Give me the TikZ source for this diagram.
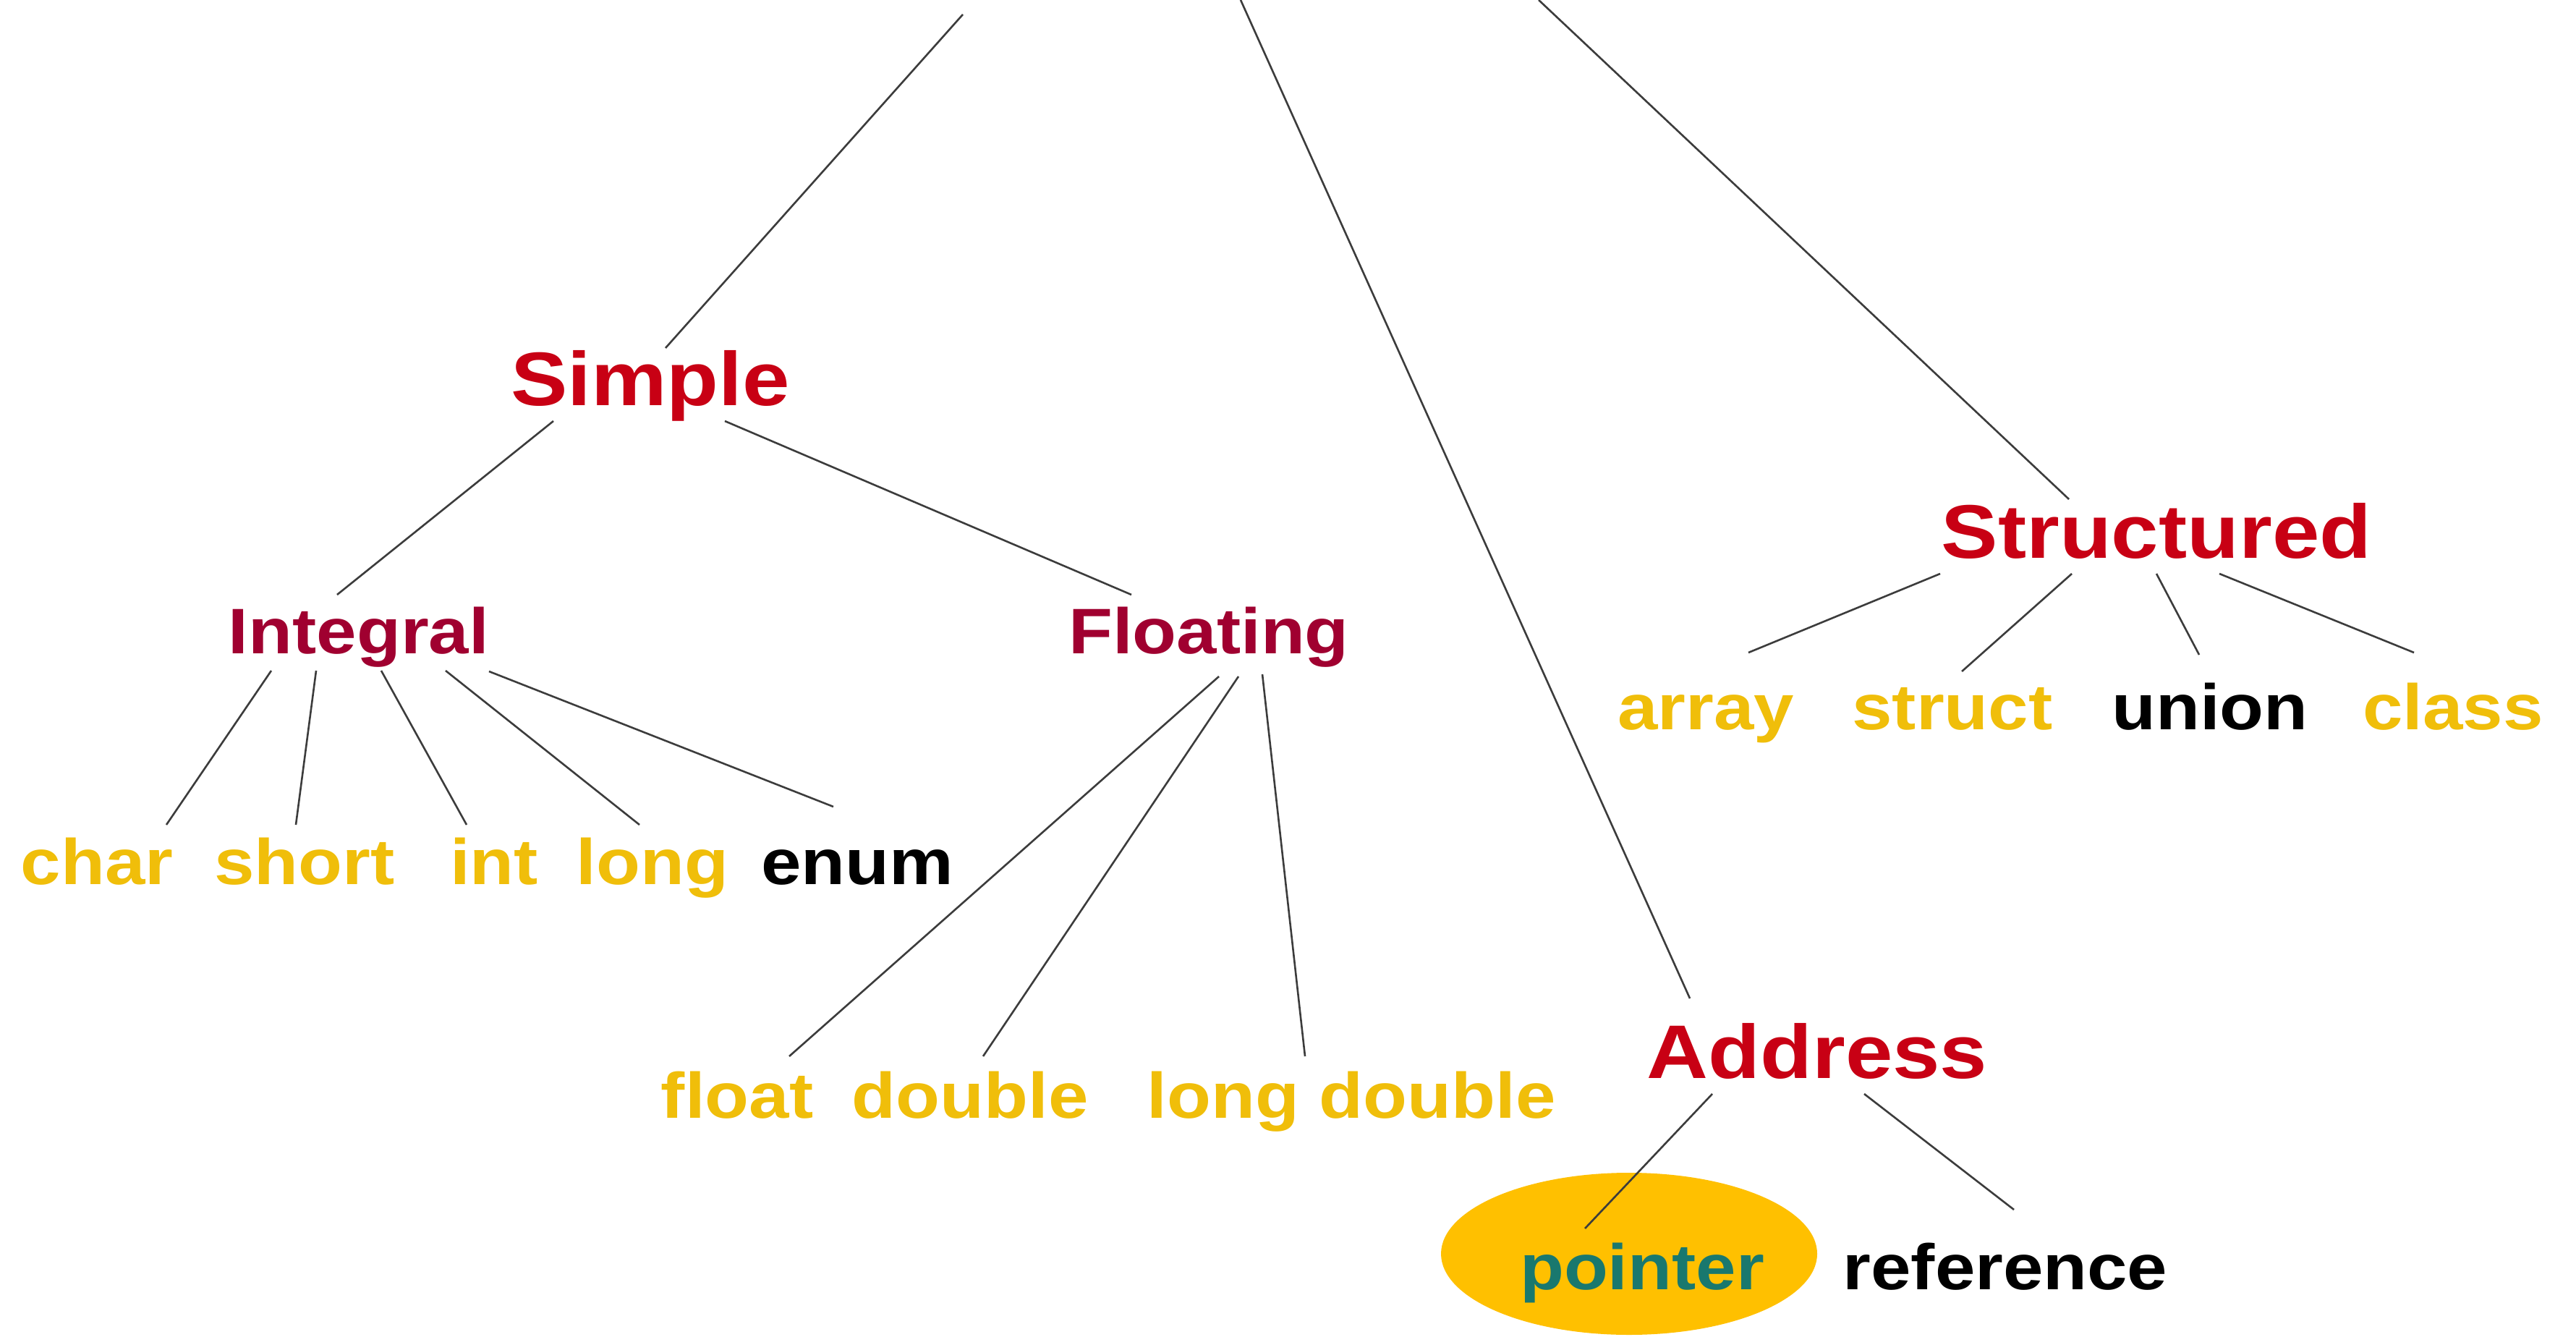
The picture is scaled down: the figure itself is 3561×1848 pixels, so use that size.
\documentclass[tikz,border=0pt]{standalone}
\usepackage{fontspec}
\newfontfamily\labelfont[FakeStretch=1.12]{Liberation Sans}
\definecolor{lvlone}{RGB}{200,0,20}
\definecolor{lvltwo}{RGB}{160,0,48}
\definecolor{leafgold}{RGB}{240,190,10}
\definecolor{ptrfill}{RGB}{255,192,0}
\definecolor{ptrtext}{RGB}{25,120,110}
\definecolor{linegray}{RGB}{60,60,60}
\begin{document}
\begin{tikzpicture}[x=0.25pt,y=-0.25pt,
  every node/.style={inner sep=0pt,outer sep=0pt,anchor=base},
  headone/.style={font=\labelfont\bfseries\fontsize{26.25pt}{30pt}\selectfont,text=lvlone},
  headtwo/.style={font=\labelfont\bfseries\fontsize{22.25pt}{26pt}\selectfont,text=lvltwo},
  leaf/.style={font=\labelfont\bfseries\fontsize{22.25pt}{26pt}\selectfont,text=leafgold},
  leafdark/.style={leaf,text=black},
  conn/.style={draw=linegray,line width=0.65pt}]

% canvas
\fill[white] (0,0) rectangle (3561,1848);
\useasboundingbox (0,0) rectangle (3561,1848);

% highlight behind "pointer"
\fill[ptrfill] (2252,1733) ellipse [x radius=260, y radius=112];

% upper ends of the three main branches
\coordinate (topA) at (1331,20);
\coordinate (topB) at (1715,0);
\coordinate (topC) at (2127,0);

% category nodes
\node[headone] (simple) at (899,561) {Simple};
\node[headone] (structured) at (2981,772) {Structured};
\node[headone] (address) at (2512,1490) {Address};
\node[headtwo] (integral) at (496,903) {Integral};
\node[headtwo] (floating) at (1671,903) {Floating};

% integral types
\node[leaf] (char) at (134,1222) {char};
\node[leaf] (short) at (421,1222) {short};
\node[leaf] (int) at (683,1222) {int};
\node[leaf] (long) at (902,1222) {long};
\node[leafdark] (enum) at (1185,1222) {enum};

% floating types
\node[leaf] (float) at (1019,1545) {float};
\node[leaf] (double) at (1341,1545) {double};
\node[leaf] (longdouble) at (1868,1545) {long double};

% structured types
\node[leaf] (array) at (2358,1008) {array};
\node[leaf] (struct) at (2699,1008) {struct};
\node[leafdark] (union) at (3055,1008) {union};
\node[leaf] (class) at (3391,1008) {class};

% address types
\node[leaf,text=ptrtext] (pointer) at (2270,1782) {pointer};
\node[leafdark] (reference) at (2772,1782) {reference};

% main branches
\draw[conn] (topA) -- ([shift={(21,-80)}]simple.base);
\draw[conn] (topB) -- ([shift={(-176,-110)}]address.base);
\draw[conn] (topC) -- ([shift={(-121,-82)}]structured.base);

% simple
\draw[conn] ([shift={(-134,21)}]simple.base) -- ([shift={(-30,-81)}]integral.base);
\draw[conn] ([shift={(103,21)}]simple.base) -- ([shift={(-107,-81)}]floating.base);

% integral
\draw[conn] ([shift={(-121,24)}]integral.base) -- ([shift={(96,-82)}]char.base);
\draw[conn] ([shift={(-59,24)}]integral.base) -- ([shift={(-12,-82)}]short.base);
\draw[conn] ([shift={(31,24)}]integral.base) -- ([shift={(-38,-82)}]int.base);
\draw[conn] ([shift={(120,24)}]integral.base) -- ([shift={(-18,-82)}]long.base);
\draw[conn] ([shift={(180,25)}]integral.base) -- ([shift={(-33,-107)}]enum.base);

% floating
\draw[conn] ([shift={(14,32)}]floating.base) -- ([shift={(72,-85)}]float.base);
\draw[conn] ([shift={(41,32)}]floating.base) -- ([shift={(18,-85)}]double.base);
\draw[conn] ([shift={(74,29)}]floating.base) -- ([shift={(-64,-85)}]longdouble.base);

% structured
\draw[conn] ([shift={(-299,21)}]structured.base) -- ([shift={(59,-106)}]array.base);
\draw[conn] ([shift={(-117,21)}]structured.base) -- ([shift={(13,-80)}]struct.base);
\draw[conn] ([shift={(0,21)}]structured.base) -- ([shift={(-15,-103)}]union.base);
\draw[conn] ([shift={(87,21)}]structured.base) -- ([shift={(-54,-106)}]class.base);

% address
\draw[conn] ([shift={(-145,22)}]address.base) -- ([shift={(-79,-84)}]pointer.base);
\draw[conn] ([shift={(65,22)}]address.base) -- ([shift={(12,-110)}]reference.base);
\end{tikzpicture}
\end{document}
